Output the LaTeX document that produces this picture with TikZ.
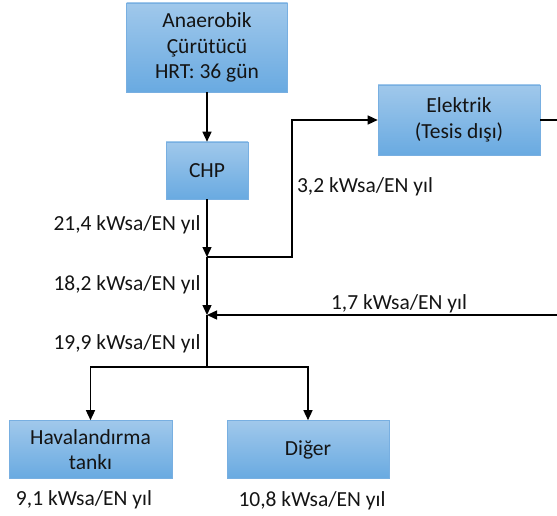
\documentclass[tikz,border=0pt]{standalone}
\usepackage{fontspec}
\setmainfont{Carlito}
\usetikzlibrary{arrows.meta}
\definecolor{boxtop}{RGB}{160,200,235}
\definecolor{boxbot}{RGB}{105,170,225}
\definecolor{boxedge}{RGB}{120,175,225}
\definecolor{ink}{RGB}{20,20,20}

\begin{document}
\begin{tikzpicture}[x=1pt,y=-1pt,>={Triangle[width=9pt,length=10pt]},line width=1.4pt,
                    font=\fontsize{21.5}{25.5}\selectfont,text=ink,
                    box/.style={draw=boxedge,line width=0.6pt,top color=boxtop,bottom color=boxbot,
                                align=center,inner sep=0pt},
                    flow label/.style={anchor=base}]
\useasboundingbox (0,0) rectangle (557,516);

\node[box,minimum width=161pt,minimum height=89pt] (dig) at (207,47.5) {Anaerobik\\Çürütücü\\HRT: 36 gün};
\node[box,minimum width=82pt,minimum height=57pt] (chp) at (207,170.5) {CHP};
\node[box,minimum width=162pt,minimum height=70pt] (elec) at (459,120) {Elektrik\\(Tesis dışı)};
\node[box,minimum width=163pt,minimum height=58pt] (hav) at (90.5,449.5) {Havalandırma\\tankı};
\node[box,minimum width=162pt,minimum height=58pt] (diger) at (308,449.5) {Diğer};

\coordinate (j1) at (207,257);
\coordinate (j2) at (207,315);
\coordinate (j3) at (207,367);
\coordinate (c1) at (292,120);
\coordinate (eout) at (557,120);
\coordinate (ein) at (557,315);

\draw[->] (dig) -- (chp);
\draw[->] (chp) -- (j1);
\draw[->] (j1) -| (c1) -- (elec.west);
\draw (elec.east) -- (eout);
\draw[->] (j1) -- (j2);
\draw[->] (ein) -- (j2);
\draw (j2) -- (j3);
\draw[->] (j3) -| (hav.north);
\draw[->] (j3) -| (diger.north);

\node[flow label] (e214) at (127,230) {21,4 kWsa/EN yıl};
\node[flow label] (e32) at (365,193) {3,2 kWsa/EN yıl};
\node[flow label] (e182) at (127,290) {18,2 kWsa/EN yıl};
\node[flow label] (e17) at (399,309) {1,7 kWsa/EN yıl};
\node[flow label] (e199) at (127,349) {19,9 kWsa/EN yıl};
\node[flow label] (e91) at (84,505) {9,1 kWsa/EN yıl};
\node[flow label] (e108) at (312,506) {10,8 kWsa/EN yıl};
\end{tikzpicture}
\end{document}
